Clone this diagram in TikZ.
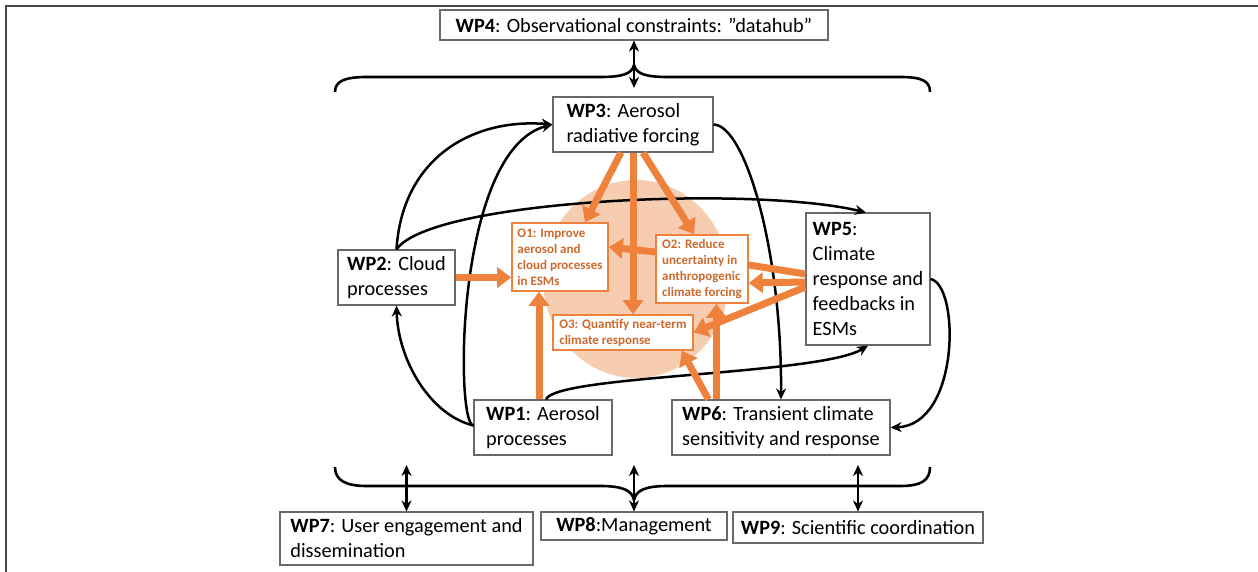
\documentclass[tikz,border=0pt]{standalone}
\usepackage{fontspec}
\setmainfont{Carlito}
\usetikzlibrary{arrows.meta,calc}
\definecolor{boxgray}{RGB}{105,105,105}
\definecolor{oarrow}{RGB}{238,130,60}
\definecolor{ocircle}{RGB}{247,205,178}
\definecolor{otext}{RGB}{205,105,45}
\definecolor{framegray}{RGB}{70,70,70}
\begin{document}
\begin{tikzpicture}[x=1pt,y=-1pt,
  wp/.style={draw=boxgray,line width=1.1pt,fill=white,inner xsep=4pt,inner ysep=2pt,align=left,font=\fontsize{20.3}{25}\selectfont},
  ob/.style={draw=oarrow,line width=1.6pt,fill=white,inner sep=3pt,align=left,text=otext,font=\fontsize{13}{16}\selectfont\bfseries},
  blk/.style={draw=black,line width=2.5pt,-{Stealth[length=11pt,width=10pt,inset=3.5pt]}},
  dbl/.style={draw=black,line width=2.5pt,{Stealth[length=11pt,width=10pt,inset=3.5pt]}-{Stealth[length=11pt,width=10pt,inset=3.5pt]}},
  oar/.style={draw=oarrow,line width=7pt,-{Triangle[length=14pt,width=20pt]}},
  oln/.style={draw=oarrow,line width=7pt},
  bracepath/.style={draw=black,line width=2.6pt,line join=round}
]
\useasboundingbox (0,0) rectangle (1258,572);
% frame
\draw[framegray,line width=1.5pt] (6,572) -- (6,6) -- (1258,6);

% background circle
\fill[ocircle] (636,279) ellipse [x radius=93pt, y radius=99pt];

% nodes
\node[wp,minimum width=388pt,minimum height=30pt] (wp4) at (634,25) {\textbf{WP4}: Observational constraints: ”datahub”};
\node[wp,minimum width=160pt,minimum height=55pt] (wp3) at (633,124.5) {\textbf{WP3}: Aerosol\\radiative forcing};
\node[wp,minimum width=117pt,minimum height=55pt] (wp2) at (396.5,277.5) {\textbf{WP2}: Cloud\\processes};
\node[wp,minimum width=124pt,minimum height=132pt] (wp5) at (868,279) {\textbf{WP5}:\\Climate\\response and\\feedbacks in\\ESMs};
\node[wp,minimum width=138pt,minimum height=55pt] (wp1) at (543,427.5) {\textbf{WP1}: Aerosol\\processes};
\node[wp,minimum width=218pt,minimum height=55pt] (wp6) at (781,427.5) {\textbf{WP6}: Transient climate\\sensitivity and response};
\node[wp,minimum width=253pt,minimum height=53pt] (wp7) at (406.5,538.5) {\textbf{WP7}: User engagement and\\dissemination};
\node[wp,minimum width=186pt,minimum height=28pt] (wp8) at (634,526) {\textbf{WP8}:Management};
\node[wp,minimum width=250pt,minimum height=31pt] (wp9) at (858,527.5) {\textbf{WP9}: Scientific coordination};

\node[ob,minimum width=96pt,minimum height=68pt] (o1) at (560,257) {O1: Improve\\aerosol and\\cloud processes\\in ESMs};
\node[ob,minimum width=92pt,minimum height=68pt] (o2) at (702,269) {O2: Reduce\\uncertainty in\\anthropogenic\\climate forcing};
\node[ob,minimum width=140pt,minimum height=35pt] (o3) at (623,332.5) {O3: Quantify near-term\\climate response};

% braces
\coordinate (tb) at (634,88);
\draw[bracepath] (335,92) .. controls (335,81) and (345,77) .. (367,77) -- (600,77)
  .. controls (622,77) and (632,74) .. (634,65)
  .. controls (636,74) and (646,77) .. (668,77) -- (900,77)
  .. controls (922,77) and (930,81) .. (930,92);
\draw[dbl] (wp4.south) -- (tb);

\coordinate (b7) at (406.5,465);
\coordinate (b8) at (634,465);
\coordinate (b9) at (858,465);
\draw[bracepath] (335,467) .. controls (335,480) and (345,486) .. (367,486) -- (600,486)
  .. controls (622,486) and (632,490) .. (634,500)
  .. controls (636,490) and (646,486) .. (668,486) -- (900,486)
  .. controls (922,486) and (930,480) .. (930,467);
\draw[dbl] (b7) -- (wp7.north);
\draw[dbl] (b8) -- (wp8.north);
\draw[dbl] (b9) -- (wp9.north);

% black curved connectors
\draw[blk] (wp2.north) .. controls (402,160) and (470,118) .. (wp3.west);
\draw[blk] (wp2.north) .. controls (430,200) and (750,185) .. ($(wp5.north)+(-2,0)$);
\draw[blk] ($(wp1.west)+(0,-2)$) .. controls (455,425) and (455,150) .. (wp3.west);
\draw[blk] ($(wp1.west)+(0,-2)$) .. controls (430,415) and (398,360) .. (wp2.south);
\draw[blk] ($(wp1.north)+(3,0)$) .. controls (555,375) and (820,375) .. (wp5.south);
\draw[blk] (wp3.east) .. controls (745,125) and (782,250) .. (wp6.north);
\draw[blk] (wp5.east) .. controls (960,285) and (960,425) .. (wp6.east);

% orange arrows
\coordinate (w1o) at ($(wp1.north)+(-4,0)$);
\coordinate (w6a) at ($(wp6.north west)+(45,0)$);
\coordinate (w6b) at ($(wp6.north west)+(37,0)$);
\draw[oar] ($(wp3.south)+(-12,0)$) -- ($(o1.north)+(25,0)$);
\draw[oar] (wp3.south) -- ($(o3.north)+(10,0)$);
\draw[oar] ($(wp3.south)+(10,0)$) -- ($(o2.north)+(-8,0)$);
\draw[oar] ($(o2.west)+(0,-17)$) -- ($(o1.east)+(0,-10)$);
\draw[oar] (wp2.east) -- (wp2.east -| o1.west);
\draw[oar] (w1o) -- (w1o |- o1.south);
\draw[oln] ($(wp5.west)+(0,-5)$) -- ($(o2.east)+(0,-4)$);
\draw[oar] ($(wp5.west)+(0,3)$) -- ($(o2.east)+(0,14)$);
\draw[oar] ($(wp5.west)+(0,8)$) -- (o3.east);
\draw[oar] (w6a) -- (w6a |- o2.south);
\draw[oar] (w6b) -- ($(o3.south east)+(-12,0)$);
\end{tikzpicture}
\end{document}
